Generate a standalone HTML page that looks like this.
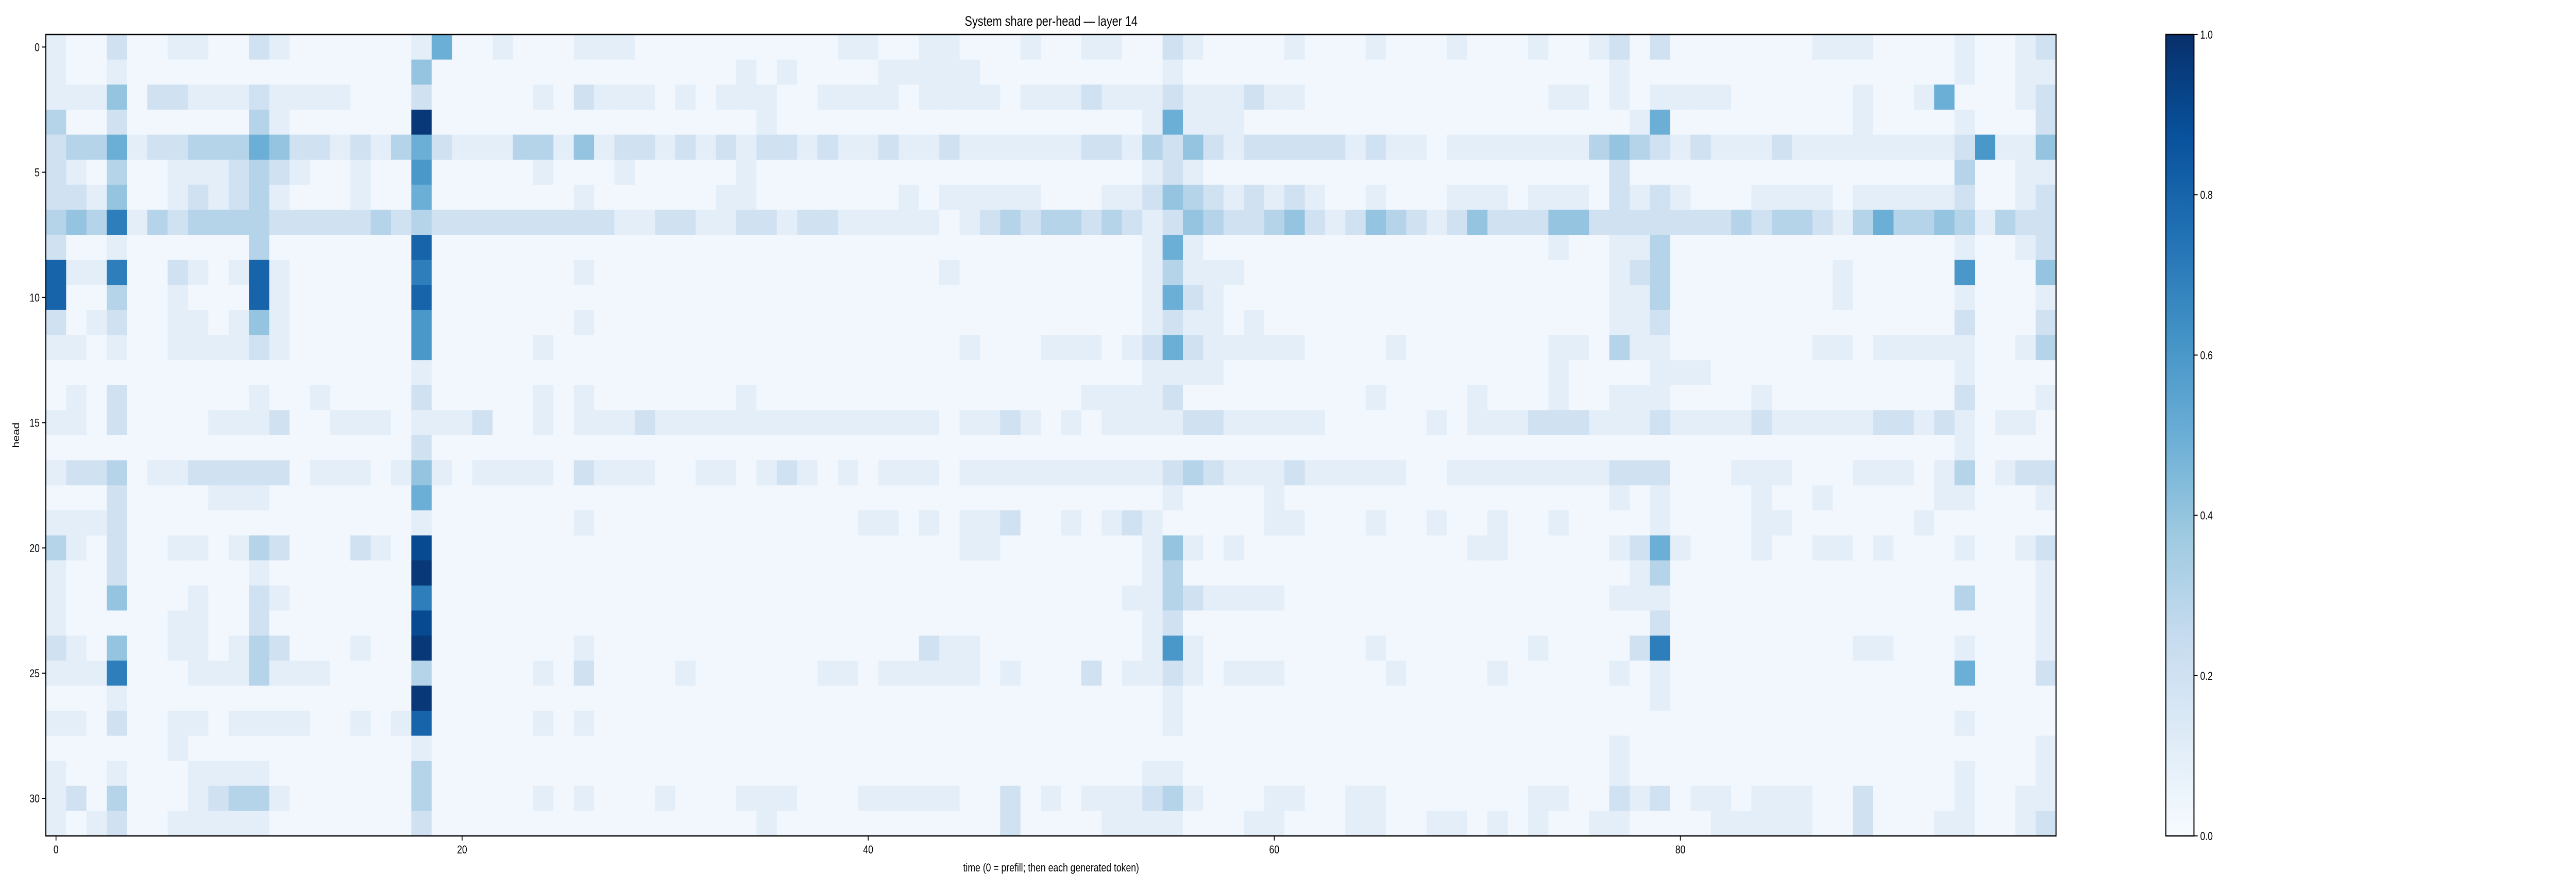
<!DOCTYPE html>
<html><head><meta charset="utf-8"><style>
html,body{margin:0;padding:0;background:#fff;overflow:hidden;}
#chart{display:block;width:100vw;height:100vh;}
svg text{font-family:"Liberation Sans",sans-serif;fill:#000;}
</style></head><body>
<svg id="chart" viewBox="0 0 6237 1728" preserveAspectRatio="none" xmlns="http://www.w3.org/2000/svg">
<rect x="0" y="0" width="6237" height="1728" fill="#fff"/>
<g id="cells"></g>
<g id="axes"></g>
<defs><linearGradient id="cbg" x1="0" y1="1" x2="0" y2="0">
<stop offset="0" stop-color="#f7fbff"/><stop offset="0.125" stop-color="#deebf7"/><stop offset="0.25" stop-color="#c6dbef"/><stop offset="0.375" stop-color="#9ecae1"/><stop offset="0.5" stop-color="#6baed6"/><stop offset="0.625" stop-color="#4292c6"/><stop offset="0.75" stop-color="#2171b5"/><stop offset="0.875" stop-color="#08519c"/><stop offset="1" stop-color="#08306b"/>
</linearGradient></defs>
<text x="2545" y="50" font-size="27" text-anchor="middle">System share per-head — layer 14</text>
<text x="2545" y="1692" font-size="22" text-anchor="middle">time (0 = prefill; then each generated token)</text>
<text x="0" y="0" font-size="22" text-anchor="middle" transform="translate(46,845) rotate(-90)">head</text>
</svg>
<script>
// heatmap rows (heads 0..31), each char = value/10 ('A' = ~1.0), columns = time 0..98
const rowsQ1 = ["1002001100210000001500100","1001000000000000004000000","1114022111211110002000001","300200000031000000A000000","2335122333542212135211133","2103001112321001006000001","2214001212310001005000000","3437132333322222323222222","2001000000300000008000000","8117002101810000007000000","8003001000810000008000000","2012001101410000006000000","1101001111210000006000001","0000000000000000001000000","0102000000100100002000001","1102000011120011101112001","0000000000000000002000000","1223011222220111014101111","0002000011100000005000000","1112000000000000001000000","3102001101320002109000000","100200000010000000A000000","1004000100210000007000000","1000001100200000009000000","210400110132000100A000000","1117000111311100003000001","000100000000000000A000000","1102001101111001018000001","0000001000000000001000000","1001000111100000003000000","1203000123310000003000001","1012001111100000002000000"];
const rowsQ2 = ["011100000000001100110001","000000000101000011111000","021110101110011110111101","000000000010000000000000","141221212122121121121111","000100000100000000000000","010000001100000001011111","222112211221221111101232","000000000000000000000000","010000000000000000010000","000000000000000000000000","010000000000000000000000","000000000000000000001000","000000000000000000000000","010000000100000000000000","011121111111111111101121","000000000000000000000000","021110011012101011101111","000000000000000000000000","010000000000000110101120","000000000000000000001100","000000000000000000000000","000000000000000000000000","000000000000000000000000","010000000000000000211000","020000100000011011111010","000000000000000000000000","010000000000000000000000","000000000000000000000000","000000000000000000000000","010001000111000111110020","000000000010000000000020"];
const rowsQ3 = ["0011002100001000100010001","0000001000000000000000000","1121112111211000000000000","0000015111000000000000000","1122132421222221211011111","0000012100000000000000000","0001124321212100100011101","3323212432234212432124222","0000015100000000000000000","0000013111000000000000000","0000015210000000000000000","0000012110100000000000000","1110125211111000010000000","0000011110000000000000000","0011112000000000100001000","0101111221111100000101112","0000000000000000000000000","1111112321112111110011111","0000001000010000000000000","0101210000011000100100100","0000014101000000000001100","0000013000000000000000000","0000113211110000000000000","0000012000000000000000000","0000016100000000100000001","0020112101110000010000100","0000001000000000000000000","0000001000000000000000000","0000000000000000000000000","0000011000000000000000000","1011123100011001100000001","0001111000110001100110101"];
const rowsQ4 = ["0012020000000111000010012","0001000000000000000010011","1101011110000001001500012","0000150000000001000010002","1134321211121111111126114","0002000000000000000030011","1102121000111101111120012","4422222223233213533431322","1001130000000000000010012","0001230000000010000060004","0001130000000010000010001","0001120000000000000020002","1103110000000110111110013","1000011100000000000010000","1001110000100000000020001","2211121111211111221210110","0000000000000000000010000","1112220001110001110130122","0001010000100100000110001","1000010000110000001000000","0001251000100110100010012","0000130000000000000000001","0001110000000000000030001","0000020000000000000000001","0000270000000001100010001","0001010000000000000050002","0000010000000000000000000","0000000000000000000010000","0001000000000000000000001","0001000000000000000010001","1002120110111002000010011","0011000011111002000110012"];
const yTicks = [0,5,10,15,20,25,30];
const xTicks = [0,20,40,60,80];
const cbTicks = ["0.0","0.2","0.4","0.6","0.8","1.0"];

const NS="http://www.w3.org/2000/svg";
const NC=99, NR=32, X0=111, X1=4978, Y0=67, Y1=1623;
const CW=(X1-X0)/NC, RH=(Y1-Y0)/NR;
const xPos=c=>X0+c*CW, yPos=r=>Y0+r*RH;
const stops=[[247,251,255],[222,235,247],[198,219,239],[158,202,225],[107,174,214],[66,146,198],[33,113,181],[8,81,156],[8,48,107]];
function blues(v){v=Math.max(0,Math.min(1,v));const t=v*8,i=Math.min(7,Math.floor(t)),f=t-i;const a=stops[i],b=stops[i+1];return `rgb(${a.map((x,k)=>Math.round(x+(b[k]-x)*f)).join(',')})`;}
function val(ch){if(ch==='A')return 0.97;const d=parseInt(ch,10);return d===0?0.03:d/10;}
const cells=document.getElementById('cells');
for(let r=0;r<NR;r++){
  let s=(rowsQ1[r]+rowsQ2[r]+rowsQ3[r]+rowsQ4[r]);
  while(s.length<NC)s+='0';
  for(let c=0;c<NC;c++){
    const el=document.createElementNS(NS,'rect');
    el.setAttribute('x',xPos(c));el.setAttribute('y',yPos(r));
    el.setAttribute('width',CW+0.6);el.setAttribute('height',RH+0.6);
    el.setAttribute('fill',blues(val(s[c])));
    
    
    cells.appendChild(el);
  }
}
const ax=document.getElementById('axes');
function mk(tag,attrs,text){const e=document.createElementNS(NS,tag);for(const k in attrs)e.setAttribute(k,attrs[k]);if(text!==undefined)e.textContent=text;ax.appendChild(e);return e;}
let e=mk('rect',{x:X0,y:Y0,width:X1-X0,height:Y1-Y0,fill:'none',stroke:'#000','stroke-width':2.5});


yTicks.forEach(t=>{const y=yPos(t+0.5);
  e=mk('line',{x1:X0-9,x2:X0,y1:y,y2:y,stroke:'#000','stroke-width':2});
  
  
  e=mk('text',{x:X0-15,y:y+8,'font-size':22,'text-anchor':'end'},String(t));
  
  
});
xTicks.forEach(t=>{const x=xPos(t+0.5);
  e=mk('line',{x1:x,x2:x,y1:Y1,y2:Y1+9,stroke:'#000','stroke-width':2});
  
  
  e=mk('text',{x:x,y:Y1+34,'font-size':22,'text-anchor':'middle'},String(t));
  
  
});
const CX0=5244,CX1=5312;
e=mk('rect',{x:CX0,y:Y0,width:CX1-CX0,height:Y1-Y0,fill:'url(#cbg)',stroke:'#000','stroke-width':2.5});


cbTicks.forEach(t=>{const y=Y1-parseFloat(t)*(Y1-Y0);
  e=mk('line',{x1:CX1,x2:CX1+9,y1:y,y2:y,stroke:'#000','stroke-width':2});
  
  
  e=mk('text',{x:CX1+15,y:y+8,'font-size':22,'text-anchor':'start'},t);
  
  
});
</script>
</body></html>
